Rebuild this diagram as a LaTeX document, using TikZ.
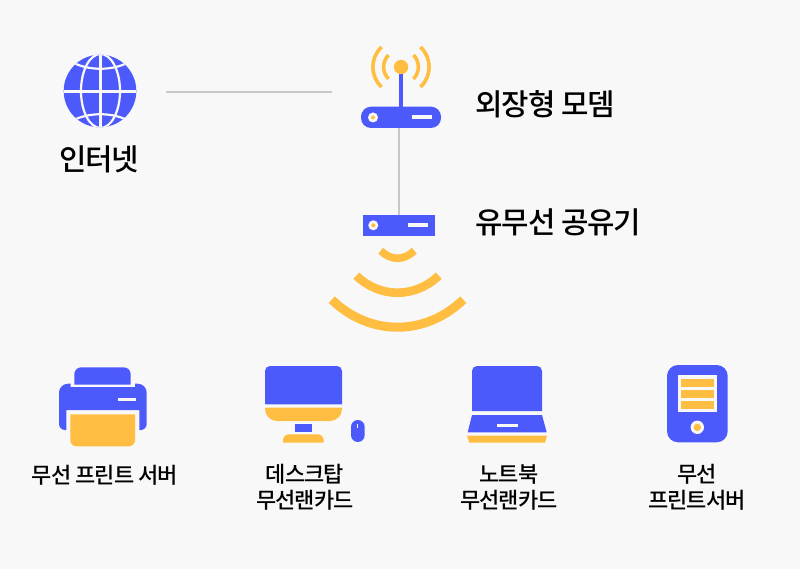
\documentclass[tikz,border=0pt]{standalone}
\usepackage{fontspec}
\newfontfamily\ko[UprightFont={* Medium},LetterSpace=-4]{Noto Sans CJK KR}
\definecolor{bg}{HTML}{F8F8F8}
\definecolor{blu}{HTML}{4D5AFB}
\definecolor{yel}{HTML}{FFBE42}
\definecolor{gry}{HTML}{C8C8C8}
\tikzset{
  big/.style={inner sep=0pt,text=black,font=\ko\fontsize{29.8}{32}\selectfont},
  small/.style={inner sep=0pt,text=black,align=center,font=\ko\fontsize{22}{26}\selectfont},
  conn/.style={draw=gry,line width=1.6pt},
  wline/.style={draw=bg,line width=2.2pt},
  arcy/.style={draw=yel,fill=none}
}
\begin{document}
\begin{tikzpicture}[x=1pt,y=-1pt]
\useasboundingbox (0,0) rectangle (800,569);
\fill[bg] (0,0) rectangle (800,569);
% connectors
\coordinate (inetR) at (166,92);
\coordinate (modemL) at (332,92);
\coordinate (modemB) at (399,128);
\coordinate (apT) at (399,215);
\draw[conn] (inetR) -- (modemL);
\draw[conn] (modemB) -- (apT);
% globe
\fill[blu] (100,91) circle (36.3);
\begin{scope}
\clip (100,91) circle (36.3);
\draw[wline] (64,91.5) -- (137,91.5);
\draw[wline] (100.5,54) -- (100.5,128);
\draw[wline] (100.5,91) ellipse (19.5 and 37);
\draw[wline] (72,62) .. controls (88,71) and (113,71) .. (129,62);
\draw[wline] (72,121) .. controls (88,112) and (113,112) .. (129,121);
\end{scope}
% modem
\draw[blu,line width=3.4pt] (401,70) -- (401,108);
\fill[yel] (401,67) circle (7.2);
\draw[arcy,line width=3.6pt] (388.5,55) .. controls (382,62) and (382,72) .. (388.5,79);
\draw[arcy,line width=3.6pt] (381.5,47) .. controls (370,58) and (370,76) .. (381.5,87);
\draw[arcy,line width=3.6pt] (413.5,55) .. controls (420,62) and (420,72) .. (413.5,79);
\draw[arcy,line width=3.6pt] (420.5,47) .. controls (432,58) and (432,76) .. (420.5,87);
\fill[blu,rounded corners=10pt] (361,106.7) rectangle (441,128);
\fill[bg] (373,117.5) circle (5);
\fill[yel] (373,117.5) circle (2);
\fill[bg] (411.7,115.3) rectangle (432,119);
% AP
\fill[blu] (363,214.7) rectangle (435.3,235.7);
\fill[bg] (373.3,225.3) circle (5);
\fill[yel] (373.3,225.3) circle (2);
\fill[bg] (407.7,223.3) rectangle (428,226.7);
% wifi
\draw[arcy,line width=7.6pt] (380.7,250.7) .. controls (391,260.8) and (404,260.8) .. (414.3,250.7);
\draw[arcy,line width=8.6pt] (356.3,275.7) .. controls (380,298.4) and (415,298.4) .. (438.7,275.7);
\draw[arcy,line width=9pt] (331.7,299.7) .. controls (370,336.4) and (425,336.4) .. (463.3,299.7);
% printer
\fill[blu] [sharp corners] (74.3,384.5) [rounded corners=7pt] -- (74.3,367.3) -- (130.7,367.3) [sharp corners] -- (130.7,384.5) -- cycle;
\fill[blu] [sharp corners] (70.7,383.7) [rounded corners=9pt] -- (59,383.7) [rounded corners=6pt] -- (59,430) [sharp corners] -- (66.3,430) -- (66.3,410) -- (139.3,410) -- (139.3,430) [rounded corners=6pt] -- (146.7,430) [rounded corners=9pt] -- (146.7,383.7) [sharp corners] -- (135,383.7) -- (135,387) -- (70.7,387) -- cycle;
\fill[yel] [sharp corners] (70.3,414.3) [rounded corners=6pt] -- (70.3,446.3) -- (135,446.3) [sharp corners] -- (135,414.3) -- cycle;
\fill[bg] (117.7,397.7) rectangle (136.3,401.3);
% desktop
\fill[blu] [sharp corners] (265,404.3) [rounded corners=5pt] -- (265,366) -- (342,366) [sharp corners] -- (342,404.3) -- cycle;
\fill[yel] [sharp corners] (265,407.7) [rounded corners=12pt] -- (265,421) -- (342,421) [sharp corners] -- (342,407.7) -- cycle;
\fill[blu] (295,424.3) rectangle (312.3,431.7);
\fill[yel] [sharp corners] (283,442.7) [rounded corners=6pt] -- (283,434.3) -- (323.7,434.3) [sharp corners] -- (323.7,442.7) -- cycle;
\fill[blu,rounded corners=6.8pt] (351,420) rectangle (364.7,442);
\fill[bg] (356.9,424) rectangle (357.8,427.7);
% laptop
\fill[blu] [sharp corners] (472,411) [rounded corners=5pt] -- (472,366) -- (542,366) [sharp corners] -- (542,411) -- cycle;
\fill[blu] (472,415) -- (542,415) -- (546.7,432.3) -- (467.7,432.3) -- cycle;
\fill[bg] (496.7,423.7) rectangle (517.7,427);
\fill[yel] (467,435.7) -- (547,435.7) -- (545,442.7) -- (469.3,442.7) -- cycle;
% tower
\fill[blu,rounded corners=11pt] (667,365) rectangle (727.7,442.3);
\fill[bg] (677.7,375) rectangle (717.3,412.3);
\fill[yel] (680.7,378.7) rectangle (714.3,386.7);
\fill[yel] (680.7,389.7) rectangle (714.3,397.7);
\fill[yel] (680.7,400.7) rectangle (714.3,408.7);
\fill[bg] (697.3,427.3) circle (6.7);
\fill[yel] (697.3,427.3) circle (3.7);
% labels
\node[big] (tInet) at (99,159) {인터넷};
\node[big,anchor=west] (tModem) at (475.5,104) {외장형 모뎀};
\node[big,anchor=west] (tAp) at (475.5,222) {유무선 공유기};
\node[small] (tPrint) at (105,475) {무선 프린트 서버};
\node[small] (tDesk) at (305,487) {데스크탑\\무선랜카드};
\node[small] (tNote) at (509,487) {노트북\\무선랜카드};
\node[small] (tServ) at (697,487) {무선\\프린트서버};
\end{tikzpicture}
\end{document}
